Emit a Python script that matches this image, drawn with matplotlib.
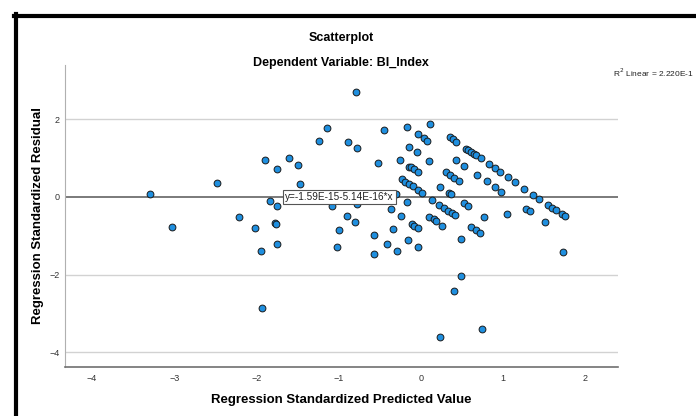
import matplotlib.pyplot as plt
from matplotlib.lines import Line2D
import numpy as np

plt.rcParams['font.family'] = ['Liberation Sans', 'DejaVu Sans']

# predicted (x) and residual (y) values
pred = [-3.29, -2.48, -3.03, -1.89, -1.60, -1.745, -1.49, -1.475, -1.83, -1.745,
        -2.21, -2.02, -1.78, -1.76, -1.745, -1.94, -1.93,
        -0.79, -1.14, -1.24, -0.89, -0.78, -0.45, -0.17, -0.525, -0.25,
        -0.145, -0.145, -0.23,
        -1.08, -0.78, -0.90, -0.80, -0.99, -1.02, -0.57, -0.57, -0.41, -0.29,
        -0.34, -0.24, -0.16, -0.36, -0.17, -0.30, -0.19, -0.14, -0.09, -0.03, 0.02,
        0.11, -0.04, 0.04, 0.08, -0.05, 0.105, -0.125, -0.08, -0.03,
        0.14, 0.22, 0.28, 0.33, 0.375, 0.415, 0.10, 0.16, 0.19,
        -0.11, -0.08, -0.03, 0.26, -0.03, 0.49, 0.41,
        0.35, 0.39, 0.43, 0.55, 0.58, 0.615, 0.65, 0.675, 0.73,
        0.83, 0.90, 0.97, 1.06, 1.15, 1.26, 1.37, 1.44,
        1.55, 1.60, 1.645, 1.72, 1.76, 0.43, 0.53,
        0.31, 0.355, 0.40, 0.46, 0.69, 0.80, 0.90, 0.98, 0.235, 0.34, 0.37,
        0.52, 0.58, 0.77, 1.05, 1.28, 1.33, 1.51, 1.73,
        0.615, 0.67, 0.72, 0.49, 0.74, 0.23]
resid = [0.085, 0.35, -0.78, 0.94, 1.00, 0.72, 0.82, 0.33, -0.11, -0.24,
         -0.52, -0.81, -0.66, -0.70, -1.20, -1.40, -2.87,
         2.71, 1.77, 1.44, 1.42, 1.25, 1.73, 1.80, 0.88, 0.96,
         1.28, 0.78, 0.47,
         -0.23, -0.19, -0.49, -0.64, -0.86, -1.29, -0.98, -1.47, -1.20, -1.38,
         -0.82, -0.49, -1.10, -0.32, -0.12, 0.08, 0.39, 0.33, 0.27, 0.17, 0.095,
         1.88, 1.62, 1.51, 1.45, 1.16, 0.93, 0.78, 0.72, 0.65,
         -0.08, -0.21, -0.29, -0.35, -0.42, -0.47, -0.51, -0.58, -0.62,
         -0.70, -0.74, -0.79, -0.75, -1.28, -2.04, -2.41,
         1.55, 1.49, 1.42, 1.24, 1.20, 1.16, 1.12, 1.07, 1.00,
         0.85, 0.74, 0.64, 0.52, 0.38, 0.21, 0.06, -0.06,
         -0.21, -0.28, -0.34, -0.43, -0.49, 0.94, 0.80,
         0.64, 0.57, 0.50, 0.41, 0.56, 0.40, 0.25, 0.14, 0.25, 0.11, 0.07,
         -0.15, -0.24, -0.52, -0.44, -0.31, -0.36, -0.64, -1.43,
         -0.77, -0.85, -0.93, -1.08, -3.40, -3.62]

fit_a, fit_b = -1.59e-15, -5.14e-16
x_ticks = [-4, -3, -2, -1, 0, 1, 2]
y_ticks = [-4, -2, 0, 2]

fig = plt.figure(figsize=(6.96, 4.16), dpi=100)
ax = fig.add_axes([65/696, 1-367/416, 553/696, 302/416])
ax.set_xlim(-4.33, 2.40)
ax.set_ylim(-4.38, 3.40)

for t in y_ticks:
    if t != 0:
        ax.axhline(t, color='#d2d2d2', lw=1.0, zorder=1)
xs = np.array(ax.get_xlim())
ax.plot(xs, fit_a + fit_b*xs, color='#707070', lw=1.3, zorder=2)

ax.scatter(pred, resid, s=24, c='#1f8fdf', edgecolors='#1a1a1a', linewidths=0.7, zorder=3)

ax.text(-1.65, 0, 'y=-1.59E-15-5.14E-16*x', fontsize=7.2, va='center', ha='left',
        color='#222222', zorder=4,
        bbox=dict(boxstyle='square,pad=0.2', fc='white', ec='#555555', lw=0.8))

ax.set_xticks(x_ticks)
ax.set_yticks(y_ticks)
ax.tick_params(length=0, labelsize=6.5, labelcolor='#333333')
ax.tick_params(axis='x', pad=5)
ax.tick_params(axis='y', pad=4)
for s in ['top', 'right']:
    ax.spines[s].set_visible(False)
ax.spines['left'].set_color('#b0b0b0')
ax.spines['bottom'].set_color('#707070')
ax.spines['bottom'].set_linewidth(1.2)

ax.set_xlabel('Regression Standardized Predicted Value', fontsize=9.5, fontweight='bold')
ax.set_ylabel('Regression Standardized Residual', fontsize=9.5, fontweight='bold')
ax.xaxis.set_label_coords(0.5, (367-394)/302)
ax.yaxis.set_label_coords((44-65)/553, 0.5)

fig.text(341/696, 1-38/416, 'Scatterplot', ha='center', va='center', fontsize=9, fontweight='bold')
fig.text(341/696, 1-63/416, 'Dependent Variable: BI_Index', ha='center', va='center',
         fontsize=9, fontweight='bold')
fig.text(613/696, 1-73/416, 'R$^2$ Linear = 2.220E-1', ha='left', va='center', fontsize=6, color='#222222')

# black outer frame
fig.add_artist(Line2D([15.5/696, 15.5/696], [0, 1-14/416], color='black', lw=3))
fig.add_artist(Line2D([14/696, 1], [1-15.5/416, 1-15.5/416], color='black', lw=3))

plt.savefig('out.png', dpi=100)
